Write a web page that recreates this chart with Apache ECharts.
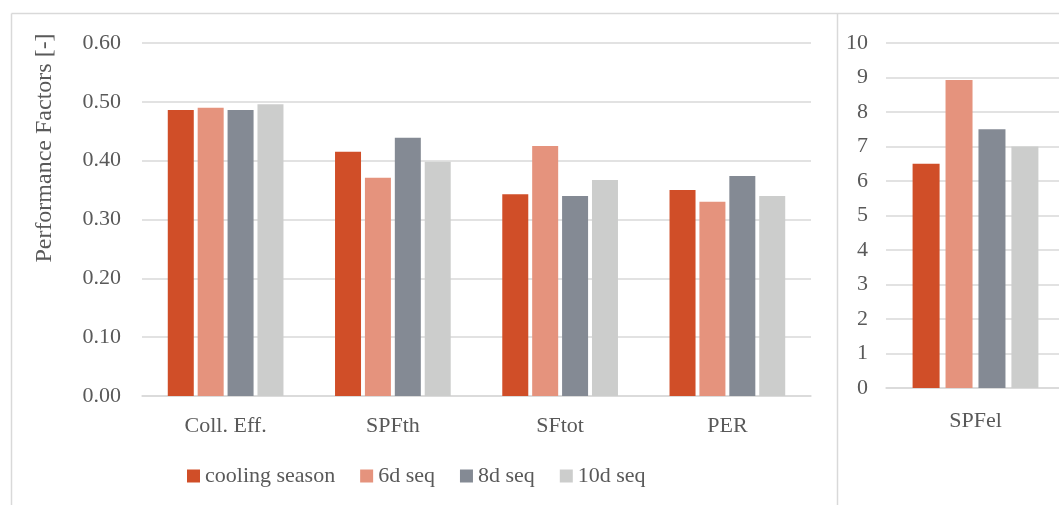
<!DOCTYPE html>
<html><head><meta charset="utf-8">
<script src="https://cdn.jsdelivr.net/npm/echarts@6/dist/echarts.min.js"></script>
<style>html,body{margin:0;padding:0;background:#fff}#c{width:1059px;height:505px}</style>
</head><body><div id="c"></div>
<script>
const categories = ['Coll. Eff.', 'SPFth', 'SFtot', 'PER'];
const categoriesRight = ['SPFel'];
const seriesNames = ['cooling season', '6d seq', '8d seq', '10d seq'];
const coolingSeason = [0.486, 0.415, 0.343, 0.350];
const seq6d = [0.490, 0.371, 0.425, 0.330];
const seq8d = [0.486, 0.439, 0.340, 0.374];
const seq10d = [0.496, 0.398, 0.367, 0.340];
const spfelValues = [6.5, 8.93, 7.5, 7.0];
const leftTicks = [0, 0.1, 0.2, 0.3, 0.4, 0.5, 0.6];
const rightTicks = [0, 1, 2, 3, 4, 5, 6, 7, 8, 9, 10];
const colors = ['#D04E28', '#E5937D', '#848A94', '#CCCDCC'];

const leftData = [coolingSeason, seq6d, seq8d, seq10d];
const font = 'Liberation Serif';
const txt = '#595959';
const grid = '#D9D9D9';
const fs = 22;

const chart = echarts.init(document.getElementById('c'));
const series = [];
seriesNames.forEach((n, i) => {
  series.push({type: 'bar', name: n, xAxisIndex: 0, yAxisIndex: 0, data: leftData[i],
    barWidth: 26, barGap: '15%', itemStyle: {color: colors[i]}, silent: true});
});
seriesNames.forEach((n, i) => {
  series.push({type: 'bar', name: n, xAxisIndex: 1, yAxisIndex: 1, data: [spfelValues[i]],
    barWidth: 27, barGap: '22%', itemStyle: {color: colors[i]}, silent: true});
});
chart.setOption({
  animation: false,
  backgroundColor: '#fff',
  textStyle: {fontFamily: font, color: txt},
  grid: [
    {left: 142, right: 248, top: 43, bottom: 109, outerBoundsMode: 'none'},
    {left: 886, width: 179, top: 43, bottom: 117, outerBoundsMode: 'none'}
  ],
  legend: {
    data: seriesNames, left: 187, top: 465, padding: 0, itemWidth: 13, itemHeight: 13, itemGap: 25,
    icon: 'rect', textStyle: {fontFamily: font, fontSize: fs, color: txt}
  },
  xAxis: [
    {type: 'category', gridIndex: 0, data: categories,
      axisLine: {lineStyle: {color: grid, width: 1.5}}, axisTick: {show: false},
      axisLabel: {fontFamily: font, fontSize: fs, color: txt, margin: 19}},
    {type: 'category', gridIndex: 1, data: categoriesRight,
      axisLine: {lineStyle: {color: grid, width: 1.5}}, axisTick: {show: false},
      axisLabel: {fontFamily: font, fontSize: fs, color: txt, margin: 22}}
  ],
  yAxis: [
    {type: 'value', gridIndex: 0, min: leftTicks[0], max: leftTicks[leftTicks.length - 1], interval: 0.1,
      axisLine: {show: false}, axisTick: {show: false},
      splitLine: {lineStyle: {color: grid, width: 1.5}},
      axisLabel: {fontFamily: font, fontSize: fs, color: txt, margin: 21, formatter: v => v.toFixed(2)}},
    {type: 'value', gridIndex: 1, min: rightTicks[0], max: rightTicks[rightTicks.length - 1], interval: 1,
      axisLine: {show: false}, axisTick: {show: false},
      splitLine: {lineStyle: {color: grid, width: 1.5}},
      axisLabel: {fontFamily: font, fontSize: fs, color: txt, margin: 18}}
  ],
  graphic: [
    {type: 'line', shape: {x1: 11.5, y1: 13.5, x2: 1059, y2: 13.5}, style: {stroke: grid, lineWidth: 1.5}},
    {type: 'line', shape: {x1: 11.5, y1: 13.5, x2: 11.5, y2: 505}, style: {stroke: grid, lineWidth: 1.5}},
    {type: 'line', shape: {x1: 837.5, y1: 13.5, x2: 837.5, y2: 505}, style: {stroke: grid, lineWidth: 1.5}},
    {type: 'text', x: 45, y: 148, rotation: Math.PI / 2,
      style: {text: 'Performance Factors [-]', font: '24px "Liberation Serif"', fill: txt,
        textAlign: 'center', textVerticalAlign: 'middle'}}
  ],
  series: series
});
</script></body></html>
